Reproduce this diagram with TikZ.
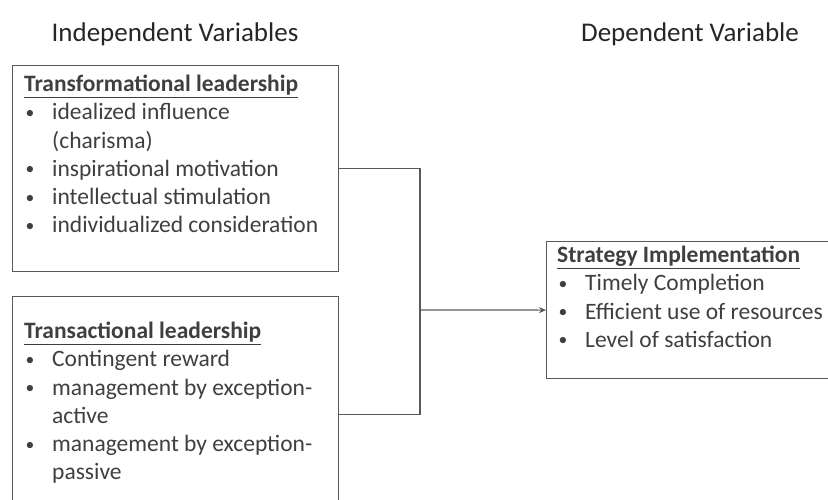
\documentclass[tikz,border=0pt]{standalone}
\usepackage{fontspec}
\setmainfont{Carlito}
\usepackage{tikz}
\usetikzlibrary{positioning}
\usetikzlibrary{arrows.meta}
\definecolor{txtgray}{HTML}{3F3F3F}
\definecolor{linegray}{HTML}{595959}
\newcommand{\bul}{\makebox[28pt][l]{\hspace{1.5pt}\raisebox{1.5pt}{\scalebox{0.75}{\textbullet}}}}
\newcommand{\cont}{\hspace*{28pt}}
\tikzstyle{heading} = [draw=none, fill=none, text=black!85, font=\fontsize{27}{32}\selectfont]
\tikzstyle{varbox}  = [rectangle, draw=linegray, line width=1.2pt, inner sep=0pt, anchor=north west]
\tikzstyle{varlist} = [draw=none, inner sep=0pt, anchor=north west, align=left, text=txtgray, font=\fontsize{23.5}{28.2}\selectfont]
\tikzstyle{link}    = [draw=linegray, line width=1.2pt]
\tikzstyle{linkarrow} = [link, -{Stealth[length=7pt,width=6pt]}]

\begin{document}
\begin{tikzpicture}[x=1pt,y=-1pt]
	\useasboundingbox (0,0) rectangle (828,499);
	\clip (0,0) rectangle (828,499);

	% headings
	\node [heading] (H1) at (175,34) {Independent Variables};
	\node [heading] (H2) at (690,34) {Dependent Variable};

	% boxes
	\node [varbox, minimum width=326, minimum height=206] (TFL) at (12,65)  {};
	\node [varbox, minimum width=326, minimum height=236] (TSL) at (12,296) {};
	\node [varbox, minimum width=300, minimum height=137] (SI)  at (546,241) {};

	% box contents
	\node [varlist] (TFLtxt) at (24,75) {%
		\underline{\textbf{Transformational leadership}}\\
		\bul idealized influence\\
		\cont (charisma)\\
		\bul inspirational motivation\\
		\bul intellectual stimulation\\
		\bul individualized consideration};
	\node [varlist] (TSLtxt) at (24,322) {%
		\underline{\textbf{Transactional leadership}}\\
		\bul Contingent reward\\
		\bul management by exception-\\
		\cont active\\
		\bul management by exception-\\
		\cont passive};
	\node [varlist] (SItxt) at (557,246) {%
		\underline{\textbf{Strategy Implementation}}\\
		\bul Timely Completion\\
		\bul Efficient use of resources\\
		\bul Level of satisfaction};

	% connectors
	\coordinate (J) at (420,310);
	\path [link] (TFL.east) -| (J);
	\path [link] (TSL.east) -| (J);
	\path [linkarrow] (J) -- (SI.west);
\end{tikzpicture}
\end{document}
